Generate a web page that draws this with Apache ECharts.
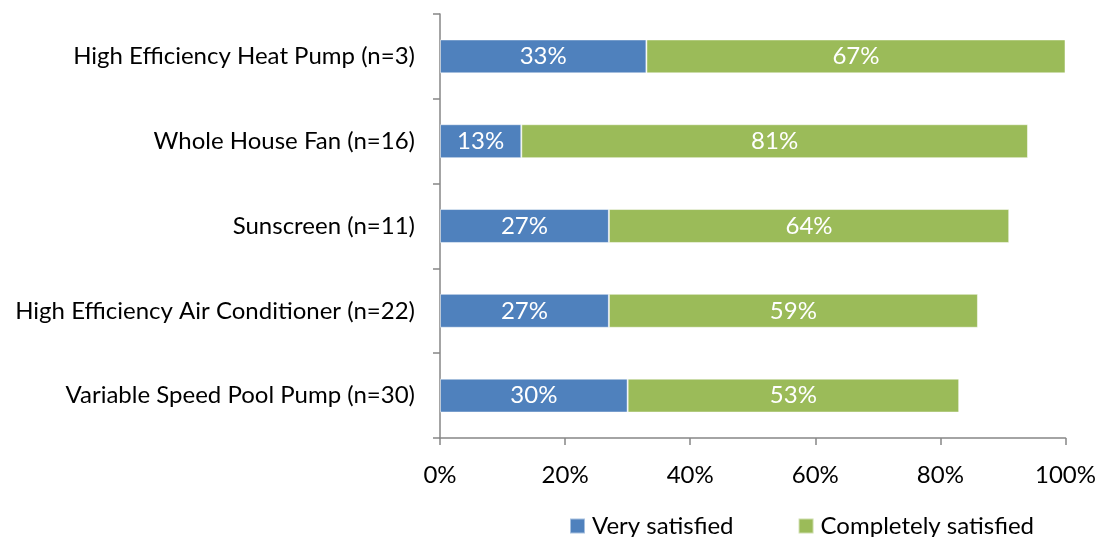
<!DOCTYPE html>
<html>
<head>
<meta charset="utf-8">
<script src="https://cdn.jsdelivr.net/npm/echarts@6/dist/echarts.min.js"></script>
<style>
  html, body { margin: 0; padding: 0; background: #fff; }
  #chart { width: 1099px; height: 537px; }
</style>
</head>
<body>
<div id="chart"></div>
<script>
// Satisfaction with installed measures (share of respondents)
const categories = [
  'High Efficiency Heat Pump (n=3)',
  'Whole House Fan (n=16)',
  'Sunscreen (n=11)',
  'High Efficiency Air Conditioner (n=22)',
  'Variable Speed Pool Pump (n=30)'
];
const verySatisfied = [33, 13, 27, 27, 30];
const completelySatisfied = [67, 81, 64, 59, 53];
const xTicks = [0, 20, 40, 60, 80, 100];

const FONT = 'Lato, "Open Sans", sans-serif';
const axisGray = '#868686';

const chart = echarts.init(document.getElementById('chart'), null, { renderer: 'canvas' });

const labelStyle = {
  show: true,
  position: 'inside',
  color: '#ffffff',
  fontFamily: FONT,
  fontSize: 24,
  formatter: p => p.value + '%'
};

chart.setOption({
  animation: false,
  backgroundColor: '#ffffff',
  grid: { left: 440, right: 33, top: 14, bottom: 99, containLabel: false },
  legend: {
    left: 564,
    top: 509,
    itemWidth: 15,
    itemHeight: 15,
    itemGap: 64,
    icon: 'rect',
    textStyle: { fontFamily: FONT, fontSize: 24, color: '#000', padding: [0, 0, 0, 2] },
    data: ['Very satisfied', 'Completely satisfied']
  },
  xAxis: {
    type: 'value',
    min: xTicks[0],
    max: xTicks[xTicks.length - 1],
    interval: xTicks[1] - xTicks[0],
    axisLine: { show: true, lineStyle: { color: axisGray, width: 1.5 } },
    axisTick: { show: true, length: 7, lineStyle: { color: axisGray, width: 1.5 } },
    splitLine: { show: false },
    axisLabel: {
      margin: 25,
      color: '#000',
      fontFamily: FONT,
      fontSize: 24,
      formatter: v => v + '%'
    }
  },
  yAxis: {
    type: 'category',
    inverse: true,
    data: categories,
    axisLine: { show: true, lineStyle: { color: axisGray, width: 1.5 } },
    axisTick: { show: true, length: 7, alignWithLabel: false, lineStyle: { color: axisGray, width: 1.5 } },
    axisLabel: { margin: 25, color: '#000', fontFamily: FONT, fontSize: 24 }
  },
  series: [
    {
      name: 'Very satisfied',
      type: 'bar',
      stack: 'total',
      barWidth: '40%',
      data: verySatisfied,
      itemStyle: { color: '#4F81BD', borderColor: 'rgba(255,255,255,0.5)', borderWidth: 1 },
      label: labelStyle
    },
    {
      name: 'Completely satisfied',
      type: 'bar',
      stack: 'total',
      barWidth: '40%',
      data: completelySatisfied,
      itemStyle: { color: '#9BBB59', borderColor: 'rgba(255,255,255,0.5)', borderWidth: 1 },
      label: labelStyle
    }
  ]
});
</script>
</body>
</html>
